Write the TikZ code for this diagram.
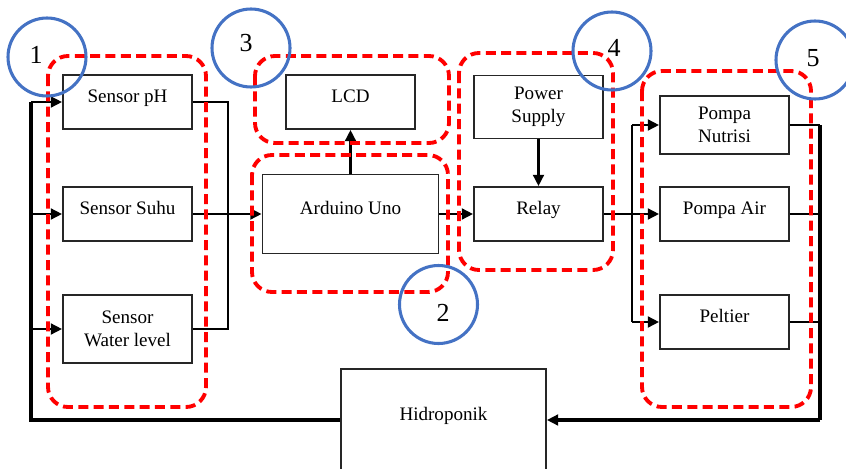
\documentclass[tikz,border=0pt]{standalone}
\usepackage{fontspec}
\setmainfont{Liberation Serif}
\usetikzlibrary{arrows.meta}
\definecolor{grpred}{HTML}{FF0000}
\definecolor{cblue}{HTML}{4472C4}
\tikzset{
  x=0.75pt, y=-0.75pt,
  blk/.style={draw=black!85, line width=1.3pt, fill=white, inner sep=2pt,
    font=\fontsize{14.3}{17.2}\selectfont, align=center},
  oneline/.style={text height=0.68em, text depth=0.22em+4.5pt},
  conn/.style={line width=2.1pt, black},
  bus/.style={line width=2.3pt, black},
  arr/.style={conn, -{Triangle[length=8.5pt,width=8pt]}},
  grp/.style={draw=grpred, line width=2.9pt, dash pattern=on 7.5pt off 4pt, rounded corners=15pt},
  num/.style={draw=cblue, line width=2.3pt, circle, minimum size=58.5pt, inner sep=0pt},
  numtxt/.style={font=\fontsize{19.5}{20}\selectfont, inner sep=0pt}
}
\begin{document}
\begin{tikzpicture}
\useasboundingbox (0,0) rectangle (846,468);
\fill[white] (0,0) rectangle (846,468);
% boxes
\node[blk, oneline, minimum width=96.75pt, minimum height=40.5pt] (ph) at (127.5,102) {Sensor pH};
\node[blk, oneline, minimum width=96.75pt, minimum height=40.5pt] (suhu) at (127.5,214) {Sensor Suhu};
\node[blk, minimum width=96.75pt, minimum height=51pt] (wl) at (127.5,329) {Sensor\\Water level};
\node[blk, oneline, minimum width=96.75pt, minimum height=40.5pt] (lcd) at (350.5,102) {LCD};
\node[blk, oneline, minimum width=132pt, minimum height=59.25pt] (ard) at (350.5,214) {Arduino Uno};
\node[blk, minimum width=96.75pt, minimum height=47.25pt] (ps) at (538.5,107) {Power\\Supply};
\node[blk, oneline, minimum width=96.75pt, minimum height=40.5pt] (relay) at (538.5,214) {Relay};
\node[blk, minimum width=96.75pt, minimum height=43.5pt] (pn) at (724.5,125) {Pompa\\Nutrisi};
\node[blk, oneline, minimum width=96.75pt, minimum height=40.5pt] (pa) at (724.5,214) {Pompa Air};
\node[blk, oneline, minimum width=96.75pt, minimum height=40.5pt] (pl) at (724.5,322) {Peltier};
\node[blk, oneline, minimum width=153.75pt, minimum height=76.5pt] (hid) at (443.5,420) {Hidroponik};
% bus coordinates
\coordinate (lb) at (31,420);
\coordinate (cb) at (228,214);
\coordinate (ob) at (632,214);
\coordinate (rb) at (820,420);
% input feed
\draw[bus] (hid.west) -- (lb) -- (lb |- ph.west);
\draw[arr] (lb |- ph.west) -- (ph.west);
\draw[arr] (lb |- suhu.west) -- (suhu.west);
\draw[arr] (lb |- wl.west) -- (wl.west);
% sensor collector
\draw[conn] (ph.east) -- (cb |- ph.east) -- (cb |- wl.east) -- (wl.east);
\draw[arr] (suhu.east) -- (ard.west);
% arduino
\draw[arr] (ard.north) -- (lcd.south);
\draw[arr] (ard.east) -- (relay.west);
\draw[arr] (ps.south) -- (relay.north);
% outputs
\draw[conn] (ob |- pn.west) -- (ob |- pl.west);
\draw[arr] (ob |- pn.west) -- (pn.west);
\draw[arr] (relay.east) -- (pa.west);
\draw[arr] (ob |- pl.west) -- (pl.west);
% return
\draw[conn] (pn.east) -- (rb |- pn.east);
\draw[conn] (pa.east) -- (rb |- pa.east);
\draw[conn] (pl.east) -- (rb |- pl.east);
\draw[bus] (rb |- pn.east) -- (rb);
\draw[bus, -{Triangle[length=8.5pt,width=8pt]}] (rb) -- (hid.east);
% groups
\draw[grp] (48,56) rectangle (206,407);
\draw[grp] (255,56) rectangle (449,143);
\draw[grp] (252,155) rectangle (448,292);
\draw[grp] (459,53) rectangle (613,270);
\draw[grp] (642,71) rectangle (811,407);
% numbered circles
\node[num] (c1) at (47,57) {};
\node[numtxt] (t1) at (36,55) {1};
\node[num] (c3) at (251,48) {};
\node[numtxt] (t3) at (246,43) {3};
\node[num] (c4) at (612,51) {};
\node[numtxt] (t4) at (614,48) {4};
\node[num] (c5) at (815,60) {};
\node[numtxt] (t5) at (813,58) {5};
\node[num] (c2) at (438.5,304.5) {};
\node[numtxt] (t2) at (443,313) {2};
\end{tikzpicture}
\end{document}
